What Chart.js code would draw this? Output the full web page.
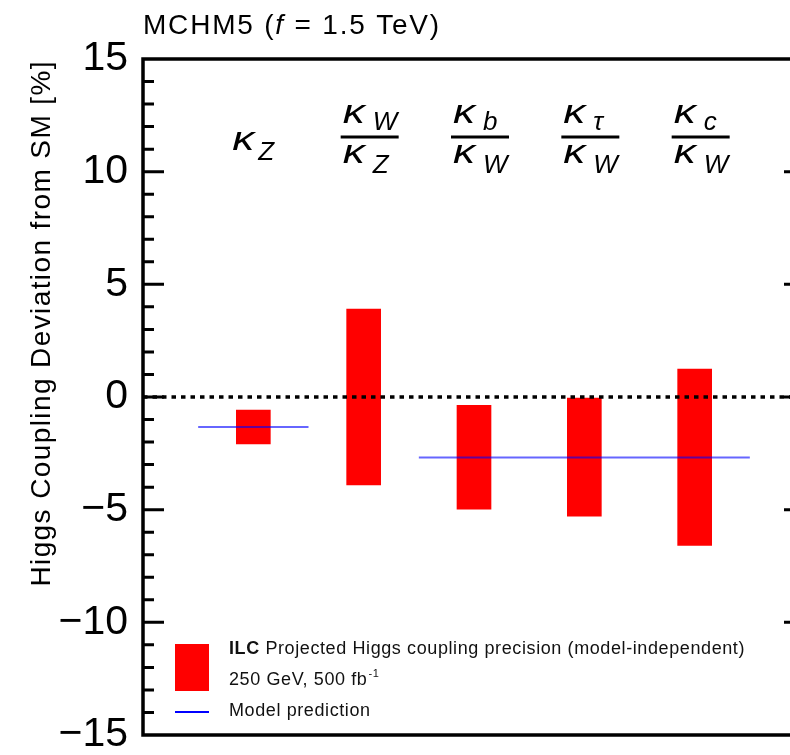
<!DOCTYPE html>
<html>
<head>
<meta charset="utf-8">
<script src="https://cdn.jsdelivr.net/npm/chart.js@4.4.0/dist/chart.umd.min.js"></script>
<style>
    html, body { margin: 0; padding: 0; background: #fff; overflow: hidden; }
    canvas { display: block; }
</style>
</head>
<body>
<canvas id="myChart" width="812" height="755"></canvas>
<script>
// x positions of the five coupling columns
const columns = [1, 2, 3, 4, 5];
const numSub = ['Z', 'W', 'b', '\u03c4', 'c'];
const denSub = ['', 'Z', 'W', 'W', 'W'];

// ILC projected precision band, % deviation from SM
const bandLow = [-2.08, -3.90, -4.98, -5.29, -6.59];
const bandHigh = [-0.58, 3.90, -0.37, -0.05, 1.24];

// MCHM5 prediction (f = 1.5 TeV)
const predGaugeX = [0.5, 1.5];
const predGaugeY = [-1.33, -1.33];
const predFermionX = [2.5, 5.5];
const predFermionY = [-2.68, -2.68];

// SM reference line
const zeroX = [0, 6];
const zeroY = [0, 0];

const yTicks = [-15, -10, -5, 0, 5, 10, 15];

const FONT = '"Liberation Sans", Arial, Helvetica, sans-serif';
const BLUE = 'rgba(0, 0, 255, 0.6)';

function pts(xs, ys) {
    return xs.map((x, i) => ({ x: x, y: ys[i] }));
}

function fmtTick(v) {
    return v < 0 ? '\u2212' + Math.abs(v) : String(v);
}

// kappa with an italic subscript; kappa is stretched a bit to look like the symbol font
function drawKappa(ctx, x, y, sub, subDx, subDy) {
    ctx.save();
    ctx.translate(x, y);
    ctx.scale(1.3, 1);
    ctx.font = 'italic 34px ' + FONT;
    ctx.fillText('\u03ba', 0, 0);
    ctx.restore();
    ctx.font = 'italic 26px ' + FONT;
    ctx.fillText(sub, x + subDx, y + subDy);
}

const decorations = {
    id: 'decorations',
    afterDraw(chart) {
        const ctx = chart.ctx;
        const area = chart.chartArea;
        const xs = chart.scales.x;
        const ys = chart.scales.y;
        ctx.save();
        ctx.fillStyle = '#000';
        ctx.strokeStyle = '#000';

        // frame
        ctx.lineWidth = 3.5;
        ctx.strokeRect(area.left, area.top, area.right - area.left, area.bottom - area.top);

        // inward ticks, left and right
        ctx.lineWidth = 3;
        for (let v = -14; v <= 14; v++) {
            const y = ys.getPixelForValue(v);
            const len = v % 5 === 0 ? 21 : 11;
            ctx.beginPath();
            ctx.moveTo(area.left, y);
            ctx.lineTo(area.left + len, y);
            ctx.moveTo(area.right, y);
            ctx.lineTo(area.right - len, y);
            ctx.stroke();
        }

        // title
        ctx.textAlign = 'left';
        ctx.textBaseline = 'alphabetic';
        ctx.letterSpacing = '1.8px';
        let tx = area.left;
        ctx.font = '28px ' + FONT;
        ctx.fillText('MCHM5 (', tx, 34);
        tx += ctx.measureText('MCHM5 (').width;
        ctx.font = 'italic 28px ' + FONT;
        ctx.fillText('f', tx, 34);
        tx += ctx.measureText('f').width;
        ctx.font = '28px ' + FONT;
        ctx.fillText(' = 1.5 TeV)', tx, 34);

        // y axis title
        ctx.save();
        ctx.translate(50, area.top + 1);
        ctx.rotate(-Math.PI / 2);
        ctx.textAlign = 'right';
        ctx.font = '28px ' + FONT;
        ctx.letterSpacing = '1.4px';
        ctx.fillText('Higgs Coupling Deviation from SM [%]', 0, 0);
        ctx.restore();

        // column labels
        ctx.letterSpacing = '0px';
        columns.forEach((c, i) => {
            const cx = xs.getPixelForValue(c);
            if (!denSub[i]) {
                drawKappa(ctx, cx - 21, 150, numSub[i], 26, 10);
                return;
            }
            const fx = cx + 6;
            ctx.lineWidth = 3;
            ctx.beginPath();
            ctx.moveTo(fx - 29, 137);
            ctx.lineTo(fx + 29, 137);
            ctx.stroke();
            drawKappa(ctx, fx - 27, 123, numSub[i], 30, 7);
            drawKappa(ctx, fx - 27, 163, denSub[i], 30, 10);
        });

        // legend
        ctx.fillStyle = '#ff0000';
        ctx.fillRect(175, 644, 34, 47);
        ctx.strokeStyle = '#0000ff';
        ctx.lineWidth = 2;
        ctx.beginPath();
        ctx.moveTo(175, 712);
        ctx.lineTo(209, 712);
        ctx.stroke();

        ctx.fillStyle = '#111';
        ctx.letterSpacing = '0.6px';
        let lx = 229;
        ctx.font = 'bold 18px ' + FONT;
        ctx.fillText('ILC', lx, 654);
        lx += ctx.measureText('ILC').width;
        ctx.font = '18px ' + FONT;
        ctx.fillText(' Projected Higgs coupling precision (model-independent)', lx, 654);
        ctx.fillText('250 GeV, 500 fb', 229, 685);
        const w2 = ctx.measureText('250 GeV, 500 fb').width;
        ctx.font = '11px ' + FONT;
        ctx.fillText('-1', 229 + w2 + 1, 677);
        ctx.font = '18px ' + FONT;
        ctx.fillText('Model prediction', 229, 716);

        ctx.restore();
    }
};

const ctx = document.getElementById('myChart').getContext('2d');
const myChart = new Chart(ctx, {
    type: 'bar',
    data: {
        datasets: [
            {
                label: 'ILC precision',
                data: columns.map((x, i) => ({ x: x, y: [bandLow[i], bandHigh[i]] })),
                backgroundColor: '#ff0000',
                borderWidth: 0,
                barThickness: 34,
                order: 3,
            },
            {
                type: 'line',
                label: 'SM',
                data: pts(zeroX, zeroY),
                borderColor: '#000',
                borderWidth: 3.5,
                borderDash: [4.5, 5],
                pointRadius: 0,
                fill: false,
                order: 1,
            },
            {
                type: 'line',
                label: 'Model prediction',
                data: pts(predGaugeX, predGaugeY),
                borderColor: BLUE,
                borderWidth: 2,
                pointRadius: 0,
                fill: false,
                order: 2,
            },
            {
                type: 'line',
                label: 'Model prediction fermions',
                data: pts(predFermionX, predFermionY),
                borderColor: BLUE,
                borderWidth: 2,
                pointRadius: 0,
                fill: false,
                order: 2,
            },
        ]
    },
    options: {
        responsive: false,
        animation: false,
        layout: {
            padding: { left: 0, top: 59, right: 7, bottom: 20 }
        },
        plugins: {
            legend: { display: false },
            tooltip: { enabled: false },
        },
        scales: {
            x: {
                type: 'linear',
                min: 0,
                max: 6,
                offset: false,
                display: false,
            },
            y: {
                min: -15,
                max: 15,
                afterBuildTicks: scale => {
                    scale.ticks = yTicks.map(v => ({ value: v }));
                },
                afterFit: scale => {
                    scale.width = 143;
                    scale.paddingTop = 0;
                    scale.paddingBottom = 0;
                },
                ticks: {
                    color: '#000',
                    padding: 15,
                    font: { family: FONT, size: 41, lineHeight: 1 },
                    callback: v => fmtTick(v),
                },
                grid: { display: false, drawTicks: false },
                border: { display: false },
            }
        }
    },
    plugins: [decorations]
});
</script>
</body>
</html>
